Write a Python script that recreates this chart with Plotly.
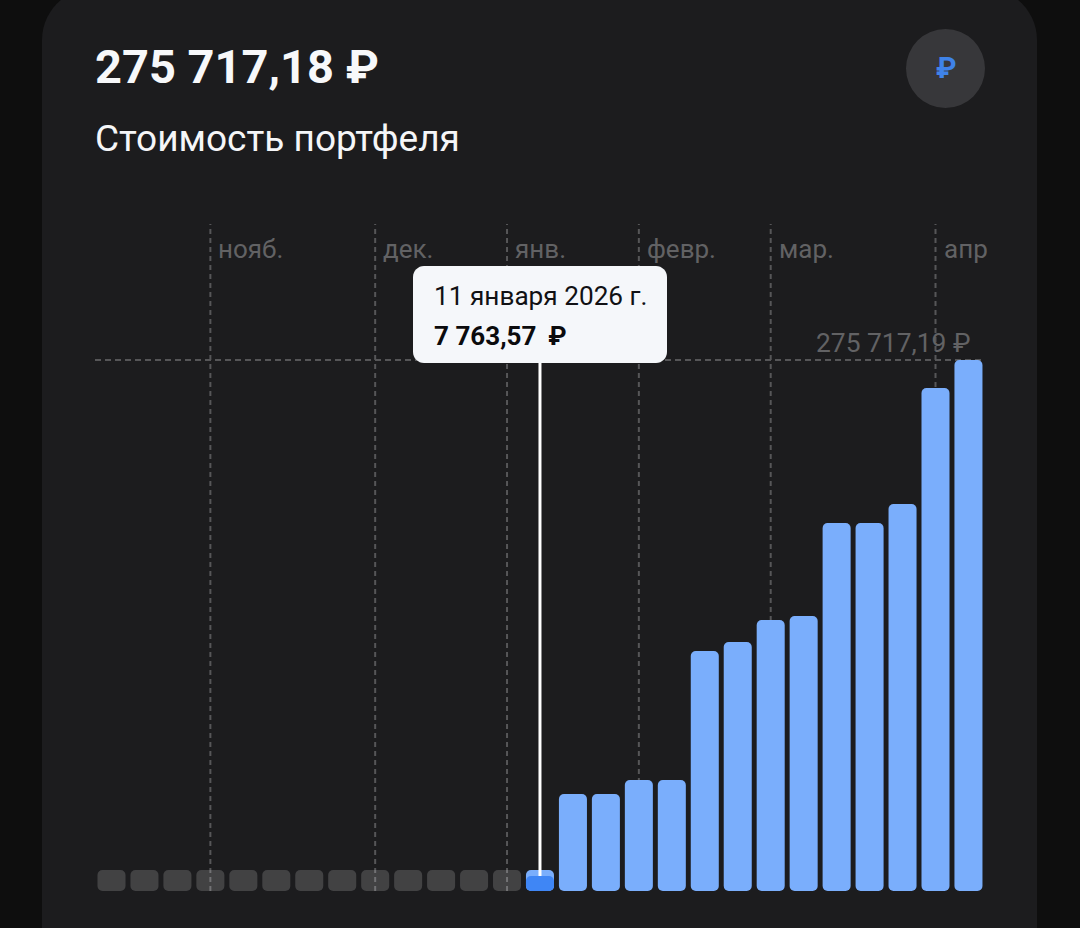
import plotly.graph_objects as go

# ---- data ----
weeks = ["2025-10-12","2025-10-19","2025-10-26","2025-11-02","2025-11-09","2025-11-16","2025-11-23",
         "2025-11-30","2025-12-07","2025-12-14","2025-12-21","2025-12-28","2026-01-04","2026-01-11",
         "2026-01-18","2026-01-25","2026-02-01","2026-02-08","2026-02-15","2026-02-22","2026-03-01",
         "2026-03-08","2026-03-15","2026-03-22","2026-03-29","2026-04-05","2026-04-12"]
# Visible bar heights; empty weeks render at a minimum stub height.
empty_weeks = weeks[:13]
stub_height = [10900] * 13
filled_weeks = weeks[14:]
filled_values = [50400, 50400, 57600, 57600, 124600, 129300, 140700, 142800,
                 191100, 191100, 200900, 261200, 275717.19]
selected_week = ["2026-01-11"]
selected_stub = [10900]
selected_value = [7763.57]
max_value = 275717.19
month_weeks = ["2025-11-02", "2025-12-07", "2026-01-04", "2026-02-01", "2026-03-01", "2026-04-05"]
month_labels = ["нояб.", "дек.", "янв.", "февр.", "мар.", "апр"]

title_text = "275 717,18 ₽"
subtitle_text = "Стоимость портфеля"
max_label = "275 717,19 ₽"
tip_date = "11 января 2026 г."
tip_value = "7 763,57 \u2009₽"

# ---- style ----
W, H = 1080, 928
OUTER, CARD, CIRCLE = "#0e0e0e", "#1c1c1e", "#37373a"
LIGHT, DARK, STUB = "#7aaefc", "#3f86f5", "rgba(255,255,255,0.17)"
GRID, MUTED = "#565658", "#626264"
FONT = "Roboto"

# Axis ranges that make the plot area span the page.
x0_px, step_px, base_px, top_px = 111.5, 32.96, 891.0, 360.0
units_per_px = max_value / (base_px - top_px)
x_range = [(0 - x0_px) / step_px, (W - x0_px) / step_px]
y_range = [-(H - base_px) * units_per_px, base_px * units_per_px]


def px(x):
    return x / W


def py(y):
    return 1 - y / H


def rounded(x1, y1, x2, y2, r):
    k = r * 0.45
    pts = [
        f"M{px(x1 + r)},{py(y1)}", f"L{px(x2 - r)},{py(y1)}",
        f"C{px(x2 - k)},{py(y1)} {px(x2)},{py(y1 + k)} {px(x2)},{py(y1 + r)}",
        f"L{px(x2)},{py(y2 - r)}",
        f"C{px(x2)},{py(y2 - k)} {px(x2 - k)},{py(y2)} {px(x2 - r)},{py(y2)}",
        f"L{px(x1 + r)},{py(y2)}",
        f"C{px(x1 + k)},{py(y2)} {px(x1)},{py(y2 - k)} {px(x1)},{py(y2 - r)}",
        f"L{px(x1)},{py(y1 + r)}",
        f"C{px(x1)},{py(y1 + k)} {px(x1 + k)},{py(y1)} {px(x1 + r)},{py(y1)}", "Z",
    ]
    return " ".join(pts)


def bars(x, values, color):
    # An explicit base makes Plotly round both ends of each bar.
    return go.Bar(x=x, y=values, base=[0] * len(x),
                  marker=dict(color=color, line_width=0), width=0.85, hoverinfo="skip")


fig = go.Figure()
fig.add_trace(bars(empty_weeks, stub_height, STUB))
fig.add_trace(bars(selected_week, selected_stub, LIGHT))
fig.add_trace(bars(selected_week, selected_value, DARK))
fig.add_trace(bars(filled_weeks, filled_values, LIGHT))

shapes = [
    # card
    dict(type="path", xref="paper", yref="paper", layer="below", line_width=0, fillcolor=CARD,
         path=rounded(42, -12, 1037, H + 80, 52)),
    # currency badge
    dict(type="circle", xref="paper", yref="paper", layer="below", line_width=0, fillcolor=CIRCLE,
         x0=px(906), x1=px(985), y0=py(108), y1=py(29)),
]
for m in month_weeks:
    shapes.append(dict(type="line", xref="x", yref="paper", layer="below", x0=m, x1=m,
                       y0=py(891), y1=py(224), line=dict(color=GRID, width=2, dash="5px,4px")))
shapes.append(dict(type="line", xref="paper", yref="y", layer="below", x0=px(95), x1=px(983),
                   y0=max_value, y1=max_value, line=dict(color=GRID, width=2, dash="6px,4px")))
shapes.append(dict(type="line", xref="x", yref="y", layer="above", x0=selected_week[0], x1=selected_week[0],
                   y0=selected_value[0], y1=max_value, line=dict(color="#ffffff", width=3)))
shapes.append(dict(type="path", xref="paper", yref="paper", layer="above", line_width=0,
                   fillcolor="#f5f7fa", path=rounded(413, 266, 667, 363, 11)))


def text(x, y, s, size, color, bold=False, anchor="left"):
    return dict(xref="paper", yref="paper", x=px(x), y=py(y), text=f"<b>{s}</b>" if bold else s,
                showarrow=False, xanchor=anchor, yanchor="middle", align=anchor,
                font=dict(family=FONT, size=size, color=color), borderpad=0, borderwidth=0)


annotations = [
    text(95, 67, title_text, 47, "#f7f8fa", bold=True),
    text(95, 139, subtitle_text, 37, "#f5f6f8"),
    text(945.5, 68, "₽", 29, "#3f83e8", bold=True, anchor="center"),
    text(970, 343, max_label, 26.4, MUTED, anchor="right"),
    text(434, 296, tip_date, 26.2, "#111114"),
    text(434, 336, tip_value, 26, "#0b0b0d", bold=True),
]
for m, label in zip(month_weeks, month_labels):
    annotations.append(dict(xref="x", yref="paper", x=m, y=py(249), text=label, showarrow=False,
                            xanchor="left", yanchor="middle", xshift=6,
                            font=dict(family=FONT, size=26, color=MUTED)))

fig.update_layout(
    width=W, height=H, autosize=False,
    margin=dict(l=0, r=0, t=0, b=0, pad=0),
    paper_bgcolor=OUTER, plot_bgcolor="rgba(0,0,0,0)",
    barmode="overlay", barcornerradius=5, showlegend=False,
    xaxis=dict(type="category", categoryorder="array", categoryarray=weeks, range=x_range,
               domain=[0, 1], visible=False, fixedrange=True),
    yaxis=dict(range=y_range, domain=[0, 1], visible=False, fixedrange=True),
    shapes=shapes, annotations=annotations,
)
fig.write_html("out.html", config={"displayModeBar": False},
               post_script="document.body.style.margin='0';document.body.style.background='#0e0e0e';")
